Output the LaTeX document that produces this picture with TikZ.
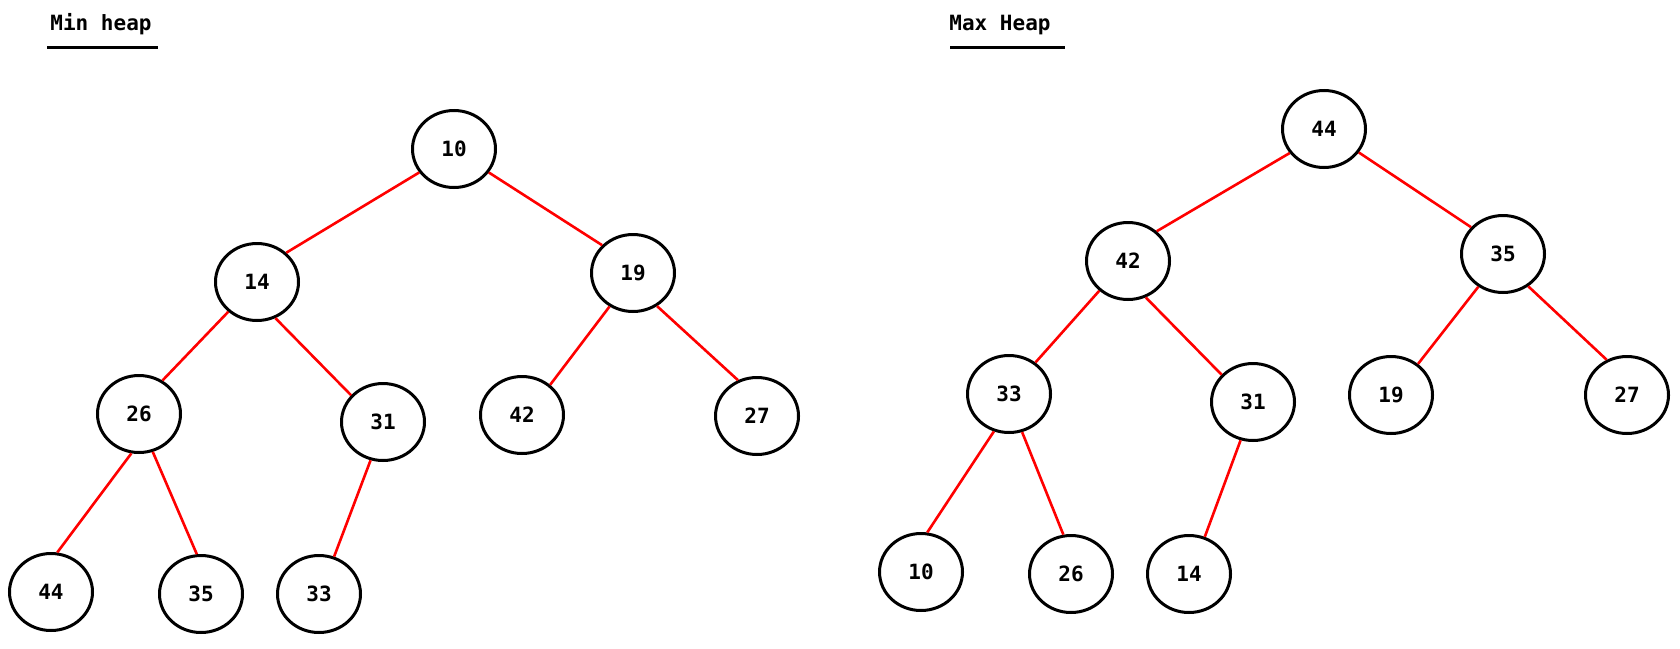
\documentclass[tikz,border=0pt]{standalone}
\usepackage{fontspec}
\setmonofont{DejaVu Sans Mono}
\usetikzlibrary{shapes.geometric}

\begin{document}
\begin{tikzpicture}[x=0.5pt,y=-0.5pt,
    key/.style={ellipse,draw=black,line width=1.5pt,inner sep=0pt,
      minimum width=41.5pt,minimum height=38.5pt,
      font=\ttfamily\bfseries\fontsize{10.5}{12}\selectfont},
    link/.style={red,line width=1.3pt},
    title/.style={anchor=base west,inner sep=0pt,
      font=\ttfamily\bfseries\fontsize{10.5}{12}\selectfont}]
  \useasboundingbox (0,0) rectangle (1680,648);

  % min heap
  \node[title] (tmin) at (50,31) {Min heap};
  \draw[line width=1.5pt] (47,47) -- (158,47);
  \node[key] (a10) at (454,149) {10};
  \node[key] (a14) at (257,282) {14};
  \node[key] (a19) at (633,273) {19};
  \node[key] (a26) at (139,414) {26};
  \node[key] (a31) at (383,422) {31};
  \node[key] (a42) at (522,415) {42};
  \node[key] (a27) at (757,416) {27};
  \node[key] (a44) at (51,592) {44};
  \node[key] (a35) at (201,594) {35};
  \node[key] (a33) at (319,594) {33};
  \draw[link] (a10.214) -- (a14.45);
  \draw[link] (a10.326) -- (a19.138);
  \draw[link] (a14.226) -- (a26.55);
  \draw[link] (a14.297) -- (a31.140);
  \draw[link] (a19.235) -- (a42.47);
  \draw[link] (a19.306) -- (a27.118);
  \draw[link] (a26.259) -- (a44.81);
  \draw[link] (a26.290) -- (a35.96);
  \draw[link] (a31.252) -- (a33.68);

  % max heap
  \node[title] (tmax) at (949,31) {Max Heap};
  \draw[line width=1.5pt] (950,47) -- (1065,47);
  \node[key] (b44) at (1324,129) {44};
  \node[key] (b42) at (1128,261) {42};
  \node[key] (b35) at (1503,254) {35};
  \node[key] (b33) at (1009,394) {33};
  \node[key] (b31) at (1253,402) {31};
  \node[key] (b19) at (1391,395) {19};
  \node[key] (b27) at (1627,395) {27};
  \node[key] (b10) at (921,572) {10};
  \node[key] (b26) at (1071,574) {26};
  \node[key] (b14) at (1189,574) {14};
  \draw[link] (b44.215) -- (b42.46);
  \draw[link] (b44.326) -- (b35.140);
  \draw[link] (b42.226) -- (b33.50);
  \draw[link] (b42.296) -- (b31.139);
  \draw[link] (b35.233) -- (b19.49);
  \draw[link] (b35.308) -- (b27.120);
  \draw[link] (b33.248) -- (b10.81);
  \draw[link] (b33.289) -- (b26.101);
  \draw[link] (b31.252) -- (b14.67);
\end{tikzpicture}
\end{document}
